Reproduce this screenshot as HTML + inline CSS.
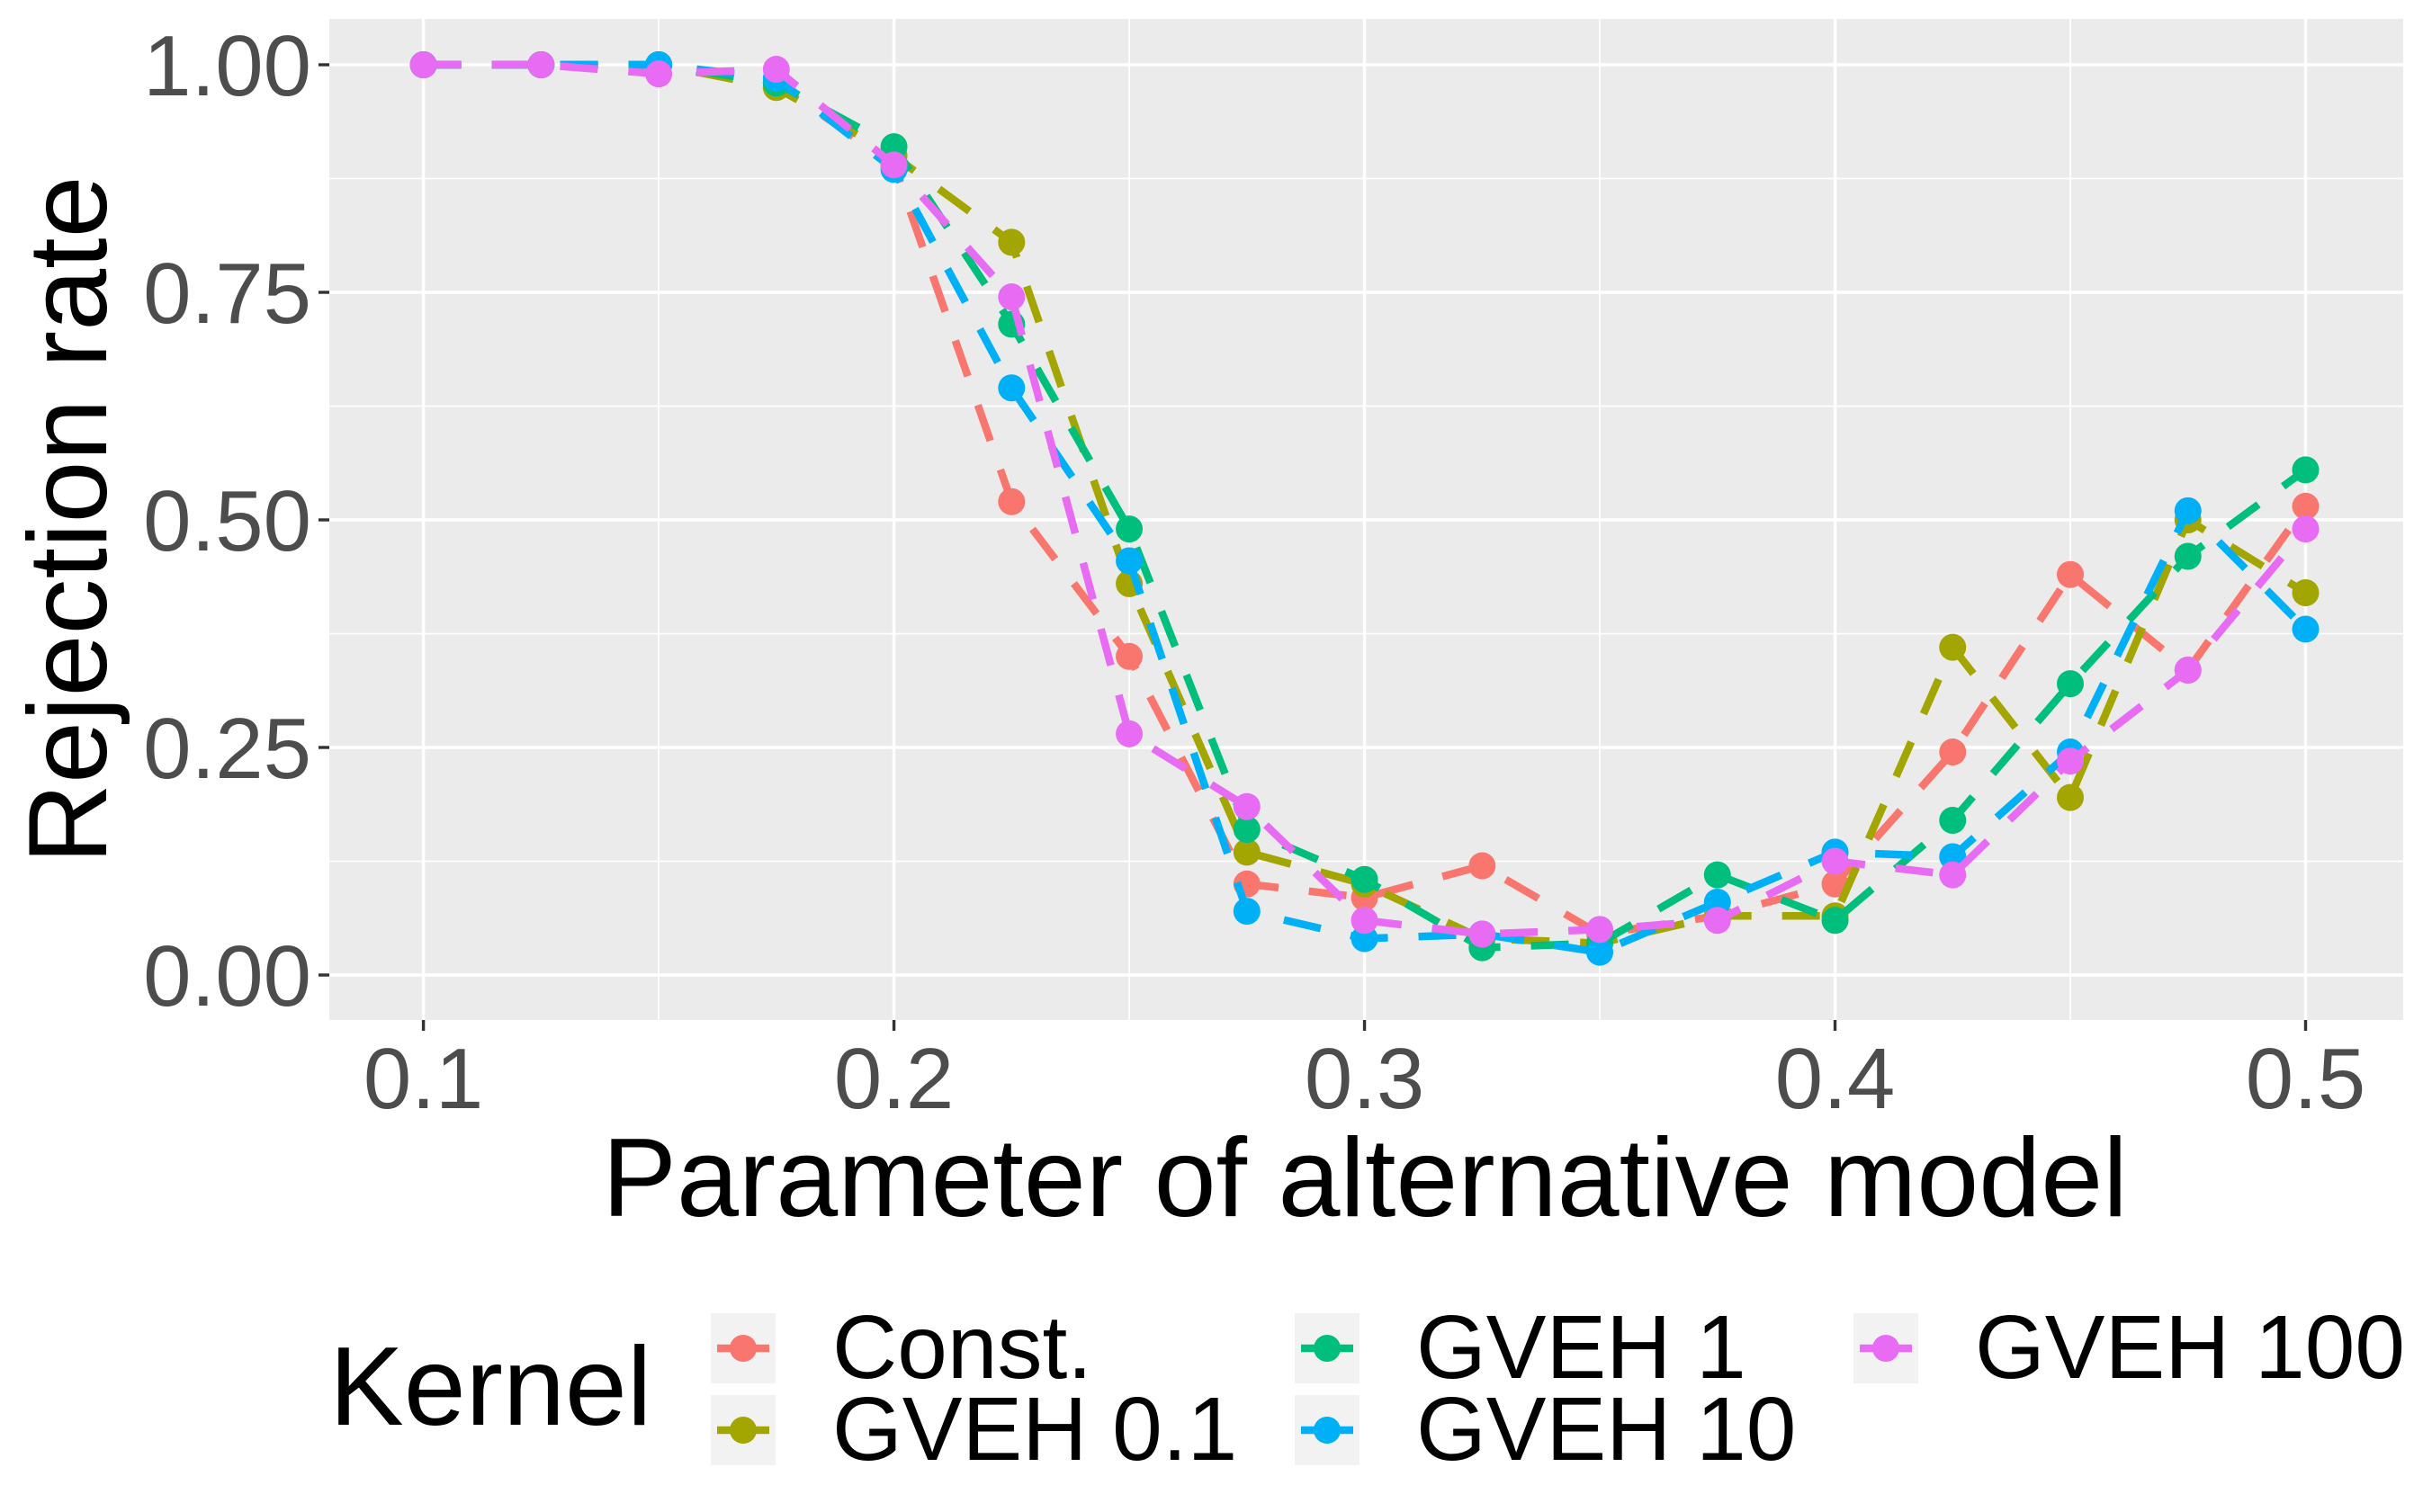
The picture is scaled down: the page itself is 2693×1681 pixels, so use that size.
<!DOCTYPE html>
<html><head><meta charset="utf-8"><style>
html,body{margin:0;padding:0;background:#fff;}
svg{display:block;font-family:"Liberation Sans",Arial,sans-serif;}
</style></head><body>
<svg id="chart" width="2693" height="1681" viewBox="0 0 2693 1681" xmlns="http://www.w3.org/2000/svg">
<rect x="0" y="0" width="2693" height="1681" fill="#fff"/>
<rect x="366" y="21" width="2305" height="1113" fill="#EBEBEB"/>
<g id="grid"></g>
<g id="series"></g>
<g id="axes"></g>
<text x="1517" y="1352" font-size="124" text-anchor="middle" fill="#000">Parameter of alternative model</text>
<text transform="translate(118,578) rotate(-90)" font-size="124" text-anchor="middle" fill="#000">Rejection rate</text>
<g id="legend">
<text x="366" y="1584" font-size="124" fill="#000">Kernel</text>
</g>
</svg>
<script>
const xValues=[0.1,0.125,0.15,0.175,0.2,0.225,0.25,0.275,0.3,0.325,0.35,0.375,0.4,0.425,0.45,0.475,0.5];
const seriesNames=["Const.","GVEH 0.1","GVEH 1","GVEH 10","GVEH 100"];
const constVals=[1.00,1.00,1.00,0.98,0.89,0.52,0.35,0.10,0.085,0.12,0.045,0.065,0.10,0.245,0.44,0.335,0.515];
const gveh01Vals=[1.00,1.00,1.00,0.975,0.90,0.805,0.43,0.135,0.10,0.04,0.035,0.065,0.065,0.36,0.195,0.50,0.42];
const gveh1Vals=[1.00,1.00,1.00,0.98,0.91,0.715,0.49,0.16,0.105,0.03,0.035,0.11,0.06,0.17,0.32,0.46,0.555];
const gveh10Vals=[1.00,1.00,1.00,0.985,0.885,0.645,0.455,0.07,0.04,0.045,0.025,0.08,0.135,0.13,0.245,0.51,0.38];
const gveh100Vals=[1.00,1.00,0.99,0.995,0.89,0.745,0.265,0.185,0.06,0.045,0.05,0.06,0.125,0.11,0.235,0.335,0.49];
const xTicks=[0.1,0.2,0.3,0.4,0.5];
const xTickLabels=["0.1","0.2","0.3","0.4","0.5"];
const yTicks=[0,0.25,0.5,0.75,1];
const yTickLabels=["0.00","0.25","0.50","0.75","1.00"];
const NS="http://www.w3.org/2000/svg";
const colors=["#F8766D","#A3A500","#00BF7D","#00B0F6","#E76BF3"];
const allVals=[constVals,gveh01Vals,gveh1Vals,gveh10Vals,gveh100Vals];
const X=v=>470.6+(v-0.1)/0.4*(2562.5-470.6);
const Y=v=>1084-v*(1084-72);
function mk(tag,attrs,parent){const e=document.createElementNS(NS,tag);for(const k in attrs)e.setAttribute(k,attrs[k]);parent.appendChild(e);return e;}
const grid=document.getElementById('grid'),axes=document.getElementById('axes'),ser=document.getElementById('series'),leg=document.getElementById('legend');
for(let i=0;i<yTicks.length-1;i++){const m=(yTicks[i]+yTicks[i+1])/2;const l=mk('line',{x1:366,x2:2671,y1:Y(m),y2:Y(m),stroke:'#fff','stroke-width':1.7},grid);

}
for(let i=0;i<xTicks.length-1;i++){const m=(xTicks[i]+xTicks[i+1])/2;const l=mk('line',{x1:X(m),x2:X(m),y1:21,y2:1134,stroke:'#fff','stroke-width':1.7},grid);

}
yTicks.forEach((t,i)=>{const l=mk('line',{x1:366,x2:2671,y1:Y(t),y2:Y(t),stroke:'#fff','stroke-width':3.4},grid);


const tk=mk('line',{x1:354,x2:366,y1:Y(t),y2:Y(t),stroke:'#333','stroke-width':3.4},axes);


const tx=mk('text',{x:346,y:Y(t)+34,'font-size':96,'text-anchor':'end',fill:'#4D4D4D'},axes);tx.textContent=yTickLabels[i];

});
xTicks.forEach((t,i)=>{const l=mk('line',{x1:X(t),x2:X(t),y1:21,y2:1134,stroke:'#fff','stroke-width':3.4},grid);


const tk=mk('line',{x1:X(t),x2:X(t),y1:1134,y2:1146,stroke:'#333','stroke-width':3.4},axes);


const tx=mk('text',{x:X(t),y:1232,'font-size':96,'text-anchor':'middle',fill:'#4D4D4D'},axes);tx.textContent=xTickLabels[i];

});
allVals.forEach((vals,s)=>{const g=mk('g',{},ser);


const pl=mk('polyline',{points:vals.map((v,i)=>X(xValues[i])+','+Y(v)).join(' '),fill:'none',stroke:colors[s],'stroke-width':8.5,'stroke-dasharray':'42 34'},g);


vals.forEach((v,i)=>{const c=mk('circle',{cx:X(xValues[i]),cy:Y(v),r:15,fill:colors[s]},g);

});});
const legPos=[[790,1460],[790,1551],[1439,1460],[1439,1551],[2060,1460]];
seriesNames.forEach((n,s)=>{const [kx,ky]=legPos[s];const g=mk('g',{},leg);


mk('rect',{x:kx,y:ky,width:72,height:78,fill:'#F2F2F2'},g);
mk('line',{x1:kx+7,x2:kx+65,y1:ky+39,y2:ky+39,stroke:colors[s],'stroke-width':8.5,'stroke-dasharray':'22 14'},g);
mk('circle',{cx:kx+36,cy:ky+39,r:15,fill:colors[s]},g);
const t=mk('text',{x:kx+135,y:ky+72,'font-size':100,fill:'#000'},g);t.textContent=n;});
</script>
</body></html>
